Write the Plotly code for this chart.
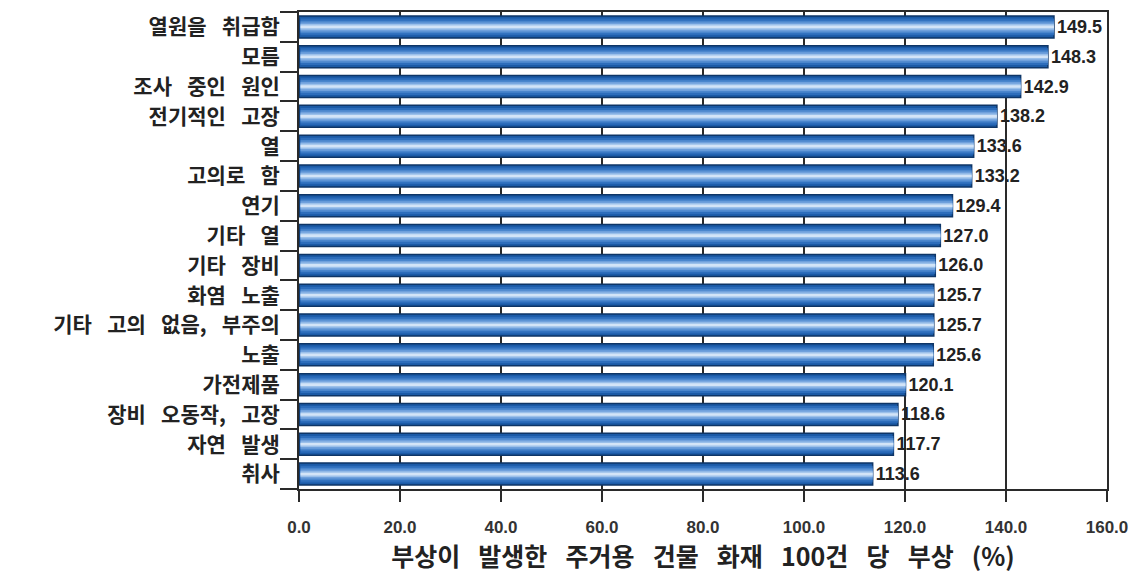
import plotly.graph_objects as go

categories = ["열원을 취급함", "모름", "조사 중인 원인", "전기적인 고장", "열", "고의로 함", "연기",
              "기타 열", "기타 장비", "화염 노출", "기타 고의 없음, 부주의", "노출", "가전제품",
              "장비 오동작, 고장", "자연 발생", "취사"]
values = [149.5, 148.3, 142.9, 138.2, 133.6, 133.2, 129.4, 127.0, 126.0, 125.7, 125.7, 125.6,
          120.1, 118.6, 117.7, 113.6]
x_ticks = [0, 20, 40, 60, 80, 100, 120, 140, 160]
x_tick_labels = ["0.0", "20.0", "40.0", "60.0", "80.0", "100.0", "120.0", "140.0", "160.0"]
x_title = "부상이 발생한 주거용 건물 화재 100건 당 부상 (%)"

num_font = "Liberation Sans, Arial"
kr_font = "Noto Sans CJK KR"
n = len(categories)


def wide(s, gap="\u2002"):
    # the reference typesets word gaps wider than a normal space
    return s.replace(" ", " " + gap)


fig = go.Figure()
# base bar with outline and value labels
fig.add_trace(go.Bar(
    y=categories, x=values, orientation="h", width=0.74,
    marker=dict(color="#1b5aa6", line=dict(color="#0e3566", width=1.5)),
    text=[f"{v:.1f}" for v in values], textposition="outside",
    textfont=dict(family=num_font, size=18, color="#222222", weight="bold"),
    cliponaxis=False, hoverinfo="skip", showlegend=False,
))
# highlight layers to imitate the cylindrical gradient
layers = [(0.56, "#2d6dbb"), (0.42, "#4a86cd"), (0.30, "#6fa0dc"), (0.19, "#9bc0ea"), (0.09, "#d3e4f7")]
for w, c in layers:
    fig.add_trace(go.Bar(
        y=categories, x=[v - 0.3 for v in values], base=[0.3] * len(values), orientation="h", width=w,
        marker=dict(color=c, line=dict(width=0)),
        hoverinfo="skip", showlegend=False,
    ))
# invisible trace to carry the boundary-tick axis
fig.add_trace(go.Scatter(x=[None], y=[None], yaxis="y2", mode="markers",
                         hoverinfo="skip", showlegend=False))

fig.update_layout(
    width=1140, height=577,
    margin=dict(l=299, r=33, t=10, b=87),
    barmode="overlay",
    plot_bgcolor="white", paper_bgcolor="white",
    xaxis=dict(
        range=[0, 160], tickvals=x_ticks, ticktext=x_tick_labels,
        showgrid=True, gridcolor="#2a2a2a", gridwidth=2,
        ticks="outside", ticklen=11, tickwidth=2, tickcolor="#2a2a2a",
        showline=True, linecolor="#2a2a2a", linewidth=2, mirror=True,
        tickfont=dict(family=num_font, size=17, color="#333333", weight="bold"),
        ticklabelstandoff=11,
        zeroline=False,
        title=dict(text=wide(x_title), font=dict(family=kr_font, size=25, color="#222222", weight="bold"),
                   standoff=12),
    ),
    yaxis=dict(
        categoryorder="array", categoryarray=categories, range=[n - 0.5, -0.5],
        tickvals=categories, ticktext=[wide(c) for c in categories],
        ticks="", showline=True, linecolor="#2a2a2a", linewidth=2, mirror=True,
        tickfont=dict(family=kr_font, size=21, color="#222222", weight="bold"),
        ticklabelstandoff=13,
        showgrid=False,
    ),
    yaxis2=dict(
        overlaying="y", side="left", range=[n - 0.5, -0.5],
        tickvals=[i - 0.5 for i in range(n + 1)], ticktext=[""] * (n + 1),
        ticks="outside", ticklen=18, tickwidth=2, tickcolor="#2a2a2a",
        showline=False, showgrid=False, zeroline=False,
    ),
)

fig.write_html("out.html")
